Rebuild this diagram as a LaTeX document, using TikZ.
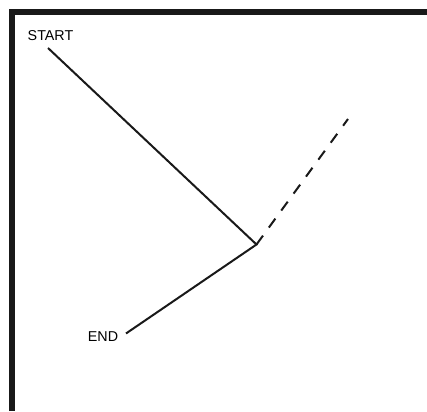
\documentclass[tikz,border=0pt]{standalone}
\usepackage{fontspec}
\setmainfont{Liberation Sans}
\begin{document}
\begin{tikzpicture}[x=1pt,y=-1pt,
  lbl/.style={font=\fontsize{14.3}{16}\selectfont, inner sep=0pt},
  wire/.style={line width=2pt, black!90},
  frame/.style={line width=6pt, black!90, line join=miter}]
\useasboundingbox (0,0) rectangle (427,411);
\draw[frame] (12,411) -- (12,12) -- (427,12);
\node[lbl] (start) at (50.5,35.5) {START};
\node[lbl] (end) at (103,337) {END};
\coordinate (s) at (48,48);
\coordinate (v) at (256.5,244.5);
\coordinate (e) at (126,333.5);
\coordinate (d) at (348,119);
\draw[wire] (s) -- (v) -- (e);
\draw[wire, dash pattern=on 11pt off 10pt] (v) -- (d);
\end{tikzpicture}
\end{document}
